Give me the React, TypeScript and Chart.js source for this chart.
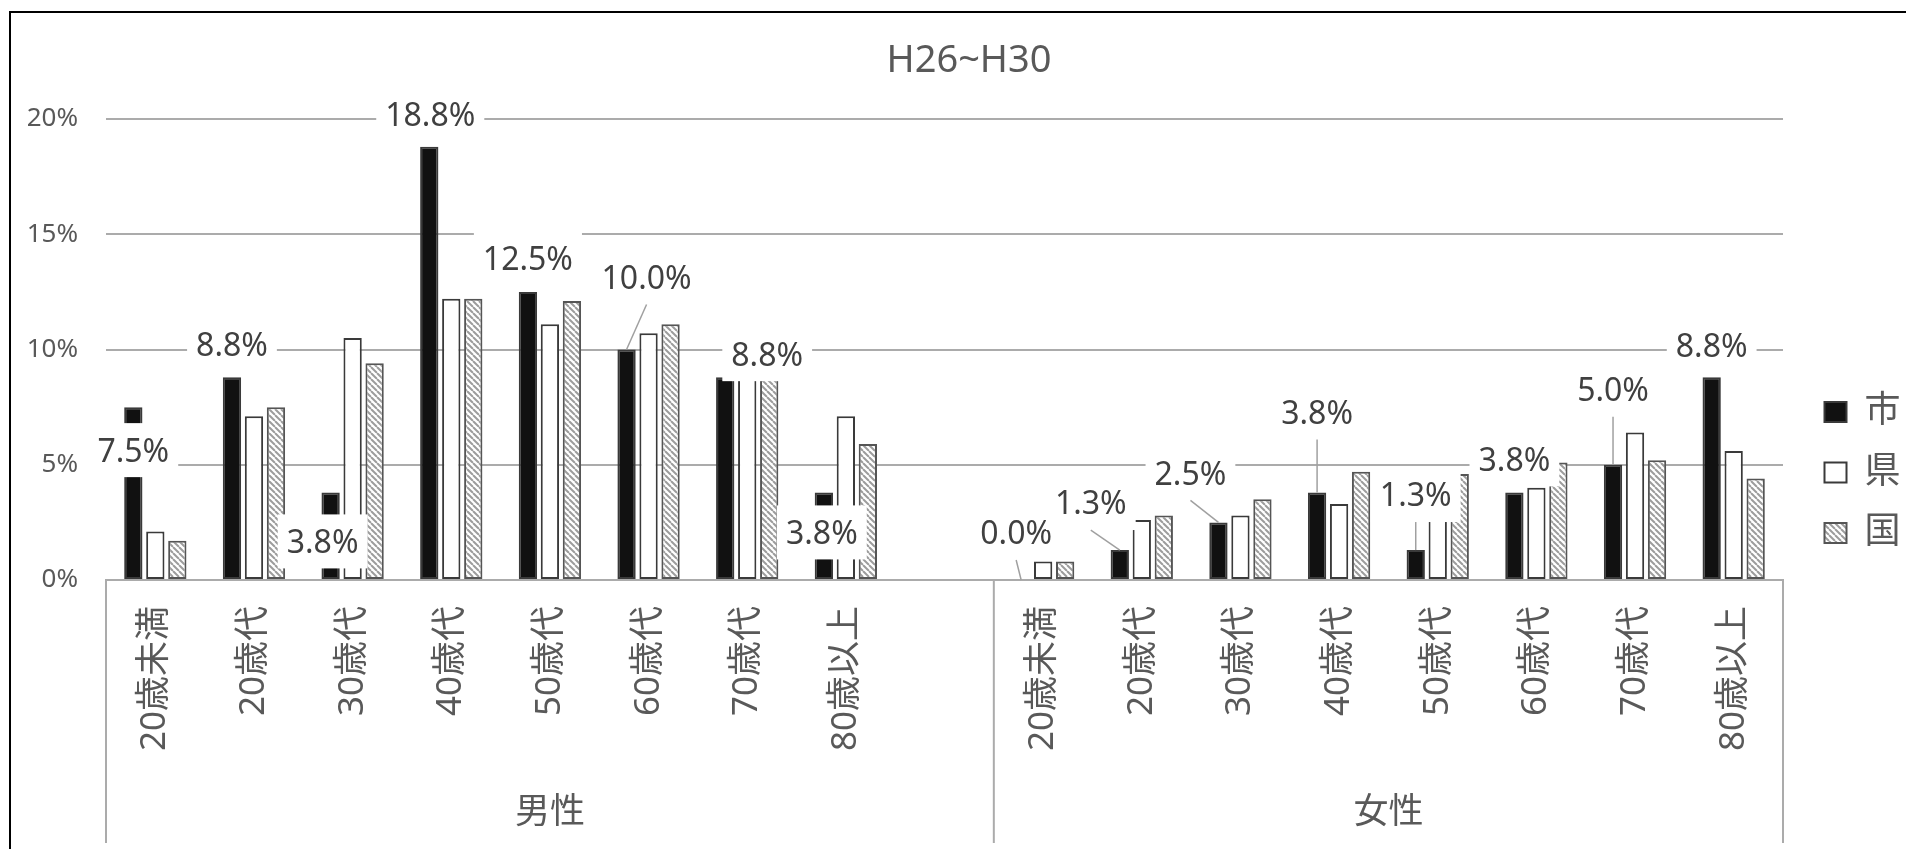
import React, { useEffect, useRef } from 'react';
import { Chart, registerables } from 'chart.js';

Chart.register(...registerables);

const FONT = "'Noto Sans', 'Noto Sans CJK JP', sans-serif";
Chart.defaults.font.family = FONT;

// ---------------- data ----------------
const CHART_TITLE = 'H26~H30';
const GROUP_LABELS = ['男性', '女性'];
const AGE_GROUPS = ['20歳未満', '20歳代', '30歳代', '40歳代', '50歳代', '60歳代', '70歳代', '80歳以上'];
const CATEGORIES = [...AGE_GROUPS, '', ...AGE_GROUPS];
const SERIES_NAMES = ['市', '県', '国'];
const CITY_VALUES = [7.5, 8.8, 3.8, 18.8, 12.5, 10.0, 8.8, 3.8, null, 0.0, 1.3, 2.5, 3.8, 1.3, 3.8, 5.0, 8.8];
const PREF_VALUES = [2.1, 7.1, 10.5, 12.2, 11.1, 10.7, 9.4, 7.1, null, 0.8, 2.6, 2.8, 3.3, 3.6, 4.0, 6.4, 5.6];
const NATION_VALUES = [1.7, 7.5, 9.4, 12.2, 12.1, 11.1, 8.8, 5.9, null, 0.8, 2.8, 3.5, 4.7, 4.6, 5.1, 5.2, 4.4];
const Y_TICK_VALUES = [0, 5, 10, 15, 20];

// ---------------- styles ----------------
const TEXT = '#595959';
const LABEL_COLOR = '#404040';
const GRID = '#ababab';
const LEADER = '#a0a0a0';
// data-label offsets (px) from the top centre of each 市 bar (manually placed labels)
const CITY_LABEL_OFFSETS: Array<[number, number]> = [
  [0, 43], [0, -33], [-8, 49], [1, -32], [0, -33], [20, -72], [42, -23], [-2, 40], [0, 0],
  [-5, -47], [-29, -47], [-28, -49], [0, -80], [0, -55], [0, -33], [0, -75], [0, -32],
];
const LEGEND_SHIFT = 17;
const TITLE_SHIFT = 22;
const SEPARATOR_LENGTH = 263;
const GROUP_LABEL_BASELINE = 243;

function makeHatch(): CanvasPattern | string {
  const c = document.createElement('canvas');
  c.width = 6;
  c.height = 6;
  const g = c.getContext('2d');
  if (!g) return '#bbbbbb';
  g.fillStyle = '#ffffff';
  g.fillRect(0, 0, 6, 6);
  g.strokeStyle = '#9c9c9c';
  g.lineWidth = 2;
  for (const k of [-6, 0, 6]) {
    g.beginPath();
    g.moveTo(k, 0);
    g.lineTo(k + 6, 6);
    g.stroke();
  }
  return g.createPattern(c, 'repeat') || '#bbbbbb';
}

const decorPlugin = {
  id: 'decor',
  afterLayout(chart: any) {
    const lg = chart.legend;
    if (lg) {
      lg.left += LEGEND_SHIFT;
      lg.right += LEGEND_SHIFT;
    }
    const tb = chart.titleBlock;
    if (tb) {
      tb.left += TITLE_SHIFT;
      tb.right += TITLE_SHIFT;
    }
  },
  afterDraw(chart: any) {
    const ctx: CanvasRenderingContext2D = chart.ctx;
    const area = chart.chartArea;
    const xs = chart.scales.x;
    ctx.save();
    // multi-level category axis
    const split = (xs.getPixelForValue(8) + xs.getPixelForValue(9)) / 2;
    const bottom = area.bottom + SEPARATOR_LENGTH;
    ctx.strokeStyle = GRID;
    ctx.lineWidth = 2;
    for (const px of [area.left, split, area.right]) {
      ctx.beginPath();
      ctx.moveTo(px, area.bottom);
      ctx.lineTo(px, bottom);
      ctx.stroke();
    }
    ctx.fillStyle = TEXT;
    ctx.font = `35px ${FONT}`;
    ctx.textAlign = 'center';
    ctx.textBaseline = 'alphabetic';
    ctx.fillText(GROUP_LABELS[0], (area.left + split) / 2, area.bottom + GROUP_LABEL_BASELINE);
    ctx.fillText(GROUP_LABELS[1], (split + area.right) / 2, area.bottom + GROUP_LABEL_BASELINE);

    // data labels for 市
    const meta = chart.getDatasetMeta(0);
    const fs = 32;
    ctx.font = `${fs}px ${FONT}`;
    CITY_VALUES.forEach((v, i) => {
      if (v == null) return;
      const bar = meta.data[i];
      if (!bar) return;
      const [dx, dy] = CITY_LABEL_OFFSETS[i];
      const cx = bar.x + dx;
      const cy = bar.y + dy;
      const text = `${v.toFixed(1)}%`;
      const w = ctx.measureText(text).width;
      const boxW = w + 18;
      const boxH = 54;
      ctx.fillStyle = '#ffffff';
      ctx.fillRect(cx - boxW / 2, cy - boxH / 2, boxW, boxH);
      if (bar.y - (cy + boxH / 2) > 12) {
        ctx.strokeStyle = LEADER;
        ctx.lineWidth = 1.5;
        ctx.beginPath();
        ctx.moveTo(cx, cy + boxH / 2);
        ctx.lineTo(bar.x, bar.y);
        ctx.stroke();
      }
      ctx.fillStyle = LABEL_COLOR;
      ctx.fillText(text, cx, cy + 0.357 * fs);
    });
    ctx.restore();
  },
};

export default function App() {
  const ref = useRef<HTMLCanvasElement>(null);
  useEffect(() => {
    const canvas = ref.current;
    if (!canvas) return;
    const hatch = makeHatch();
    const chart = new Chart(canvas, {
      type: 'bar',
      data: {
        labels: CATEGORIES,
        datasets: [
          { label: SERIES_NAMES[0], data: CITY_VALUES, backgroundColor: '#111111', borderColor: '#3a3a3a', borderWidth: 2, borderSkipped: false },
          { label: SERIES_NAMES[1], data: PREF_VALUES, backgroundColor: '#ffffff', borderColor: '#3a3a3a', borderWidth: 2, borderSkipped: false },
          { label: SERIES_NAMES[2], data: NATION_VALUES, backgroundColor: hatch as any, borderColor: '#555555', borderWidth: 2, borderSkipped: false },
        ],
      } as any,
      options: {
        responsive: false,
        animation: false,
        layout: { padding: { left: 0, right: 44, top: 0, bottom: 0 } },
        datasets: { bar: { categoryPercentage: 0.669, barPercentage: 0.832 } },
        plugins: {
          title: {
            display: true,
            text: CHART_TITLE,
            color: TEXT,
            font: { size: 38, weight: 'normal', family: FONT },
            padding: { top: 25, bottom: 35.4 },
          },
          legend: {
            position: 'right',
            align: 'center',
            maxWidth: 100,
            labels: {
              color: TEXT,
              font: { size: 36, family: FONT },
              boxWidth: 22,
              boxHeight: 20,
              padding: 24.5,
            },
          },
          tooltip: { enabled: false },
        },
        scales: {
          x: {
            grid: { display: false, drawTicks: false },
            border: { display: true, color: GRID, width: 2 },
            ticks: {
              autoSkip: false,
              minRotation: 90,
              maxRotation: 90,
              padding: 26,
              color: TEXT,
              font: { size: 35, family: FONT },
            },
            afterFit: (s: any) => {
              s.height = 352;
            },
          },
          y: {
            min: Y_TICK_VALUES[0],
            max: Y_TICK_VALUES[Y_TICK_VALUES.length - 1],
            ticks: {
              stepSize: Y_TICK_VALUES[1] - Y_TICK_VALUES[0],
              callback: (v: any) => `${v}%`,
              padding: 28,
              color: TEXT,
              font: { size: 26, family: FONT },
            },
            grid: { color: GRID, lineWidth: 2, drawTicks: false },
            border: { display: false },
            afterFit: (s: any) => {
              s.width = 95;
            },
          },
        },
      } as any,
      plugins: [decorPlugin],
    });
    return () => chart.destroy();
  }, []);
  return (
    <div
      style={{
        position: 'fixed',
        left: 9,
        top: 11,
        borderTop: '2px solid #000',
        borderLeft: '2px solid #000',
        background: '#fff',
      }}
    >
      <canvas ref={ref} width={1916} height={919} style={{ display: 'block', width: 1916, height: 919 }} />
    </div>
  );
}
